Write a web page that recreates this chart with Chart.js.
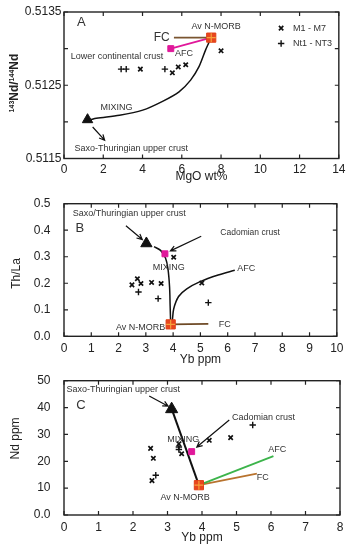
<!DOCTYPE html>
<html>
<head>
<meta charset="utf-8">
<script src="https://cdn.jsdelivr.net/npm/chart.js@4.4.1/dist/chart.umd.min.js"></script>
<style>
  html, body { margin: 0; padding: 0; background: #fff; }
  #wrap { position: relative; width: 349px; height: 550px; overflow: hidden; }
  canvas { position: absolute; left: 0; }
</style>
</head>
<body>
<div id="wrap">
  <canvas id="chartA" width="349" height="183" style="top:0;width:349px;height:183px"></canvas>
  <canvas id="chartB" width="349" height="183" style="top:183px;width:349px;height:183px"></canvas>
  <canvas id="chartC" width="349" height="190" style="top:360px;width:349px;height:190px"></canvas>
</div>
<script>
/* ── Panel A: 143Nd/144Nd vs MgO ─────────────────────────────────────── */
const aTicksX = [0, 2, 4, 6, 8, 10, 12, 14];
const aTickLabelsX = ["0", "2", "4", "6", "8", "10", "12", "14"];
const aTicksY = [0.5115, 0.512, 0.5125, 0.513, 0.5135];
const aTickLabelsY = ["0.5115", "", "0.5125", "", "0.5135"];
const aMgoM = [3.89, 5.52, 5.82, 6.20, 8.0];
const aNdM = [0.51272, 0.51267, 0.51275, 0.51278, 0.51297];
const aMgoNt = [2.91, 3.17, 5.14];
const aNdNt = [0.51272, 0.51272, 0.51272];
const aMixMgo = [7.5, 7.21, 6.87, 6.45, 5.86, 5.02, 4.01, 2.83, 1.65, 1.35];
const aMixNd = [0.51315, 0.51298, 0.51275, 0.51257, 0.51241, 0.51228, 0.51216, 0.51209, 0.51205, 0.51203];
const aFcMgo = [5.6, 7.5];
const aFcNd = [0.51315, 0.51315];
const aAfcMgo = [5.44, 7.5];
const aAfcNd = [0.51300, 0.51315];
const aCrustMgo = [1.2];
const aCrustNd = [0.51203];
const aMorbMgo = [7.5];
const aMorbNd = [0.51315];

/* ── Panel B: Th/La vs Yb ────────────────────────────────────────────── */
const bTicksX = [0, 1, 2, 3, 4, 5, 6, 7, 8, 9, 10];
const bTickLabelsX = ["0", "1", "2", "3", "4", "5", "6", "7", "8", "9", "10"];
const bTicksY = [0, 0.1, 0.2, 0.3, 0.4, 0.5];
const bTickLabelsY = ["0.0", "0.1", "0.2", "0.3", "0.4", "0.5"];
const bYbM = [2.69, 2.49, 2.82, 3.21, 3.56, 4.02, 5.05];
const bThM = [0.217, 0.194, 0.199, 0.203, 0.199, 0.298, 0.201];
const bYbNt = [2.73, 3.45, 5.29];
const bThNt = [0.167, 0.142, 0.127];
const bMixYb = [3.30, 3.54, 3.72, 3.81, 3.87, 3.89, 3.91];
const bMixTh = [0.338, 0.324, 0.295, 0.255, 0.185, 0.115, 0.045];
const bAfcYb = [3.91, 3.96, 4.02, 4.20, 4.50, 4.99, 5.65, 6.26];
const bAfcTh = [0.045, 0.051, 0.103, 0.150, 0.179, 0.206, 0.231, 0.249];
const bFcYb = [3.91, 5.29];
const bFcTh = [0.045, 0.047];
const bCrustYb = [3.02];
const bCrustTh = [0.350];
const bCadYb = [3.70];
const bCadTh = [0.311];
const bMorbYb = [3.91];
const bMorbTh = [0.045];

/* ── Panel C: Nd vs Yb ───────────────────────────────────────────────── */
const cTicksX = [0, 1, 2, 3, 4, 5, 6, 7, 8];
const cTickLabelsX = ["0", "1", "2", "3", "4", "5", "6", "7", "8"];
const cTicksY = [0, 10, 20, 30, 40, 50];
const cTickLabelsY = ["0.0", "10", "20", "30", "40", "50"];
const cYbM = [2.51, 2.59, 2.55, 3.41, 3.33, 4.21, 4.83];
const cNdM = [24.8, 21.1, 12.8, 22.8, 26.5, 27.8, 28.8];
const cYbNt = [2.66, 3.33, 3.33, 5.47];
const cNdNt = [14.8, 25.3, 24.4, 33.5];
const cMixYb = [3.91, 3.15];
const cMixNd = [11.1, 38.5];
const cAfcYb = [3.91, 6.07];
const cAfcNd = [11.1, 21.9];
const cFcYb = [3.91, 5.59];
const cFcNd = [11.1, 15.4];
const cCrustYb = [3.12];
const cCrustNd = [39.4];
const cCadYb = [3.70];
const cCadNd = [23.6];
const cMorbYb = [3.91];
const cMorbNd = [11.1];

const FONT = '"Liberation Sans", Arial, sans-serif';
Chart.defaults.font.family = FONT;
Chart.defaults.color = "#222";
Chart.defaults.animation = false;

function xy(xs, ys) {
  return xs.map((x, i) => ({ x, y: ys[i] }));
}

function lineSet(xs, ys, color, width, tension) {
  return {
    data: xy(xs, ys), showLine: true, borderColor: color, borderWidth: width,
    pointRadius: 0, tension: tension || 0, order: 5,
  };
}

function markSet(xs, ys, style, radius, fill, stroke, bw, order) {
  return {
    data: xy(xs, ys), showLine: false, pointStyle: style, pointRadius: radius,
    backgroundColor: fill, borderColor: stroke, borderWidth: bw, order: order == null ? 2 : order,
  };
}

// N-MORB: red square with a lighter cross through it
function morbSets(xs, ys) {
  return [
    markSet(xs, ys, "rect", 6.5, "#e8461e", "#e04018", 1, 1),
    markSet(xs, ys, "cross", 4.5, "#f5a23c", "#f5a23c", 1.2, 0),
  ];
}

function axis(min, max, ticks, labels, pad, extra) {
  return Object.assign({
    min, max,
    afterBuildTicks: (s) => { s.ticks = ticks.map((v) => ({ value: v })); },
    grid: { display: false, drawTicks: false },
    border: { display: false },
    ticks: {
      autoSkip: false, maxRotation: 0, padding: pad, color: "#222",
      font: { size: 12 }, callback: (v, i) => labels[i],
    },
  }, extra);
}

function axisTitle(text, pad) {
  return {
    display: true, text, color: "#222",
    font: { size: 12, lineHeight: 1 },
    padding: pad,
  };
}

/* frame, inward ticks, arrows, annotation text */
function overlay(notes, arrows, extra) {
  return {
    id: "overlay",
    afterDatasetsDraw(chart) {
      const { ctx, chartArea: a, scales: { x, y } } = chart;
      ctx.save();
      ctx.strokeStyle = "#222";
      ctx.lineWidth = 1.4;
      ctx.strokeRect(a.left, a.top, a.right - a.left, a.bottom - a.top);
      ctx.lineWidth = 1.2;
      ctx.beginPath();
      x.ticks.forEach((t) => {
        const px = x.getPixelForValue(t.value);
        ctx.moveTo(px, a.bottom); ctx.lineTo(px, a.bottom - 4);
        ctx.moveTo(px, a.top); ctx.lineTo(px, a.top + 4);
      });
      y.ticks.forEach((t) => {
        const py = y.getPixelForValue(t.value);
        ctx.moveTo(a.left, py); ctx.lineTo(a.left + 4, py);
        ctx.moveTo(a.right, py); ctx.lineTo(a.right - 4, py);
      });
      ctx.stroke();

      ctx.strokeStyle = "#111";
      ctx.lineWidth = 1.2;
      arrows.forEach(([x0, y0, x1, y1]) => {
        const p0x = x.getPixelForValue(x0), p0y = y.getPixelForValue(y0);
        const p1x = x.getPixelForValue(x1), p1y = y.getPixelForValue(y1);
        const ang = Math.atan2(p1y - p0y, p1x - p0x);
        ctx.beginPath();
        ctx.moveTo(p0x, p0y); ctx.lineTo(p1x, p1y);
        ctx.moveTo(p1x - 6 * Math.cos(ang - 0.45), p1y - 6 * Math.sin(ang - 0.45));
        ctx.lineTo(p1x, p1y);
        ctx.lineTo(p1x - 6 * Math.cos(ang + 0.45), p1y - 6 * Math.sin(ang + 0.45));
        ctx.stroke();
      });

      ctx.fillStyle = "#333";
      ctx.textBaseline = "middle";
      notes.forEach((n) => {
        ctx.font = (n.size || 9) + "px " + FONT;
        ctx.textAlign = n.align || "center";
        ctx.fillText(n.text, x.getPixelForValue(n.x), y.getPixelForValue(n.y));
      });
      if (extra) extra(chart);
      ctx.restore();
    },
  };
}

function panel(id, pad, xAxis, yAxis, datasets, plugin) {
  return new Chart(document.getElementById(id), {
    type: "scatter",
    data: { datasets },
    options: {
      responsive: false,
      devicePixelRatio: 1,
      layout: { padding: pad },
      plugins: { legend: { display: false }, tooltip: { enabled: false } },
      scales: { x: xAxis, y: yAxis },
    },
    plugins: [plugin],
  });
}

/* rotated y title drawn by hand, parts = [text, superscript?] */
function yTitle(parts, cx, cyValue, bold) {
  return (chart) => {
    const { ctx, scales: { y } } = chart;
    const w8 = bold ? "bold " : "";
    const fontOf = (sup) => w8 + (sup ? "7px " : "12px ") + FONT;
    let w = 0;
    parts.forEach(([t, sup]) => { ctx.font = fontOf(sup); w += ctx.measureText(t).width; });
    ctx.save();
    ctx.translate(cx, y.getPixelForValue(cyValue));
    ctx.rotate(-Math.PI / 2);
    ctx.fillStyle = "#222";
    ctx.textAlign = "left";
    ctx.textBaseline = "middle";
    let px = -w / 2;
    parts.forEach(([t, sup]) => {
      ctx.font = fontOf(sup);
      ctx.fillText(t, px, sup ? -3 : 0);
      px += ctx.measureText(t).width;
    });
    ctx.restore();
  };
}

/* ── A ── */
panel("chartA", { top: 12, right: 8, bottom: 0, left: 0 },
  axis(0, 14, aTicksX, aTickLabelsX, 3.5, {
    afterFit: (s) => { s.height = 24.5; },
    title: axisTitle("MgO wt%", { top: 0, bottom: 0 }),
  }),
  axis(0.5115, 0.5135, aTicksY, aTickLabelsY, 2.5, {
    afterFit: (s) => { s.width = 64; },
  }),
  [
    lineSet(aMixMgo, aMixNd, "#111", 1.5, 0.3),
    lineSet(aFcMgo, aFcNd, "#7a5530", 1.8),
    lineSet(aAfcMgo, aAfcNd, "#e0189a", 1.8),
    markSet(aMgoM, aNdM, "crossRot", 3.1, "#111", "#111", 1.7),
    markSet(aMgoNt, aNdNt, "cross", 3.2, "#111", "#111", 1.4),
    markSet(aCrustMgo, aCrustNd, "triangle", 6, "#111", "#111", 1),
    markSet(aAfcMgo.slice(0, 1), aAfcNd.slice(0, 1), "rect", 4.2, "#e0189a", "#e0189a", 1),
    ...morbSets(aMorbMgo, aMorbNd),
    markSet([11.06], [0.51328], "crossRot", 3.1, "#111", "#111", 1.7),
    markSet([11.06], [0.51307], "cross", 3.2, "#111", "#111", 1.4),
  ],
  overlay([
    { text: "A", x: 0.88, y: 0.513354, size: 13 },
    { text: "Av N-MORB", x: 7.75, y: 0.5133 },
    { text: "FC", x: 4.98, y: 0.51315, size: 12 },
    { text: "AFC", x: 6.11, y: 0.51294 },
    { text: "Lower continental crust", x: 2.7, y: 0.51289 },
    { text: "MIXING", x: 2.68, y: 0.5122 },
    { text: "Saxo-Thuringian upper crust", x: 3.43, y: 0.51164 },
    { text: "M1 - M7", x: 11.67, y: 0.51328, align: "left" },
    { text: "Nt1 - NT3", x: 11.67, y: 0.51307, align: "left" },
  ], [
    [1.46, 0.51193, 2.07, 0.51175],
  ], yTitle([["143", true], ["Nd/", false], ["144", true], ["Nd", false]], 15, 0.51253, true))
);

/* ── B ── */
panel("chartB", { top: 10, right: 9, bottom: 0, left: 0 },
  axis(0, 10, bTicksX, bTickLabelsX, 5.5, {
    afterFit: (s) => { s.height = 29.7; },
    title: axisTitle("Yb ppm", { top: 0, bottom: 0 }),
  }),
  axis(0, 0.5, bTicksY, bTickLabelsY, 13.5, {
    afterFit: (s) => { s.width = 64; },
  }),
  [
    lineSet(bMixYb, bMixTh, "#111", 1.5, 0.3),
    lineSet(bAfcYb, bAfcTh, "#111", 1.5, 0.3),
    lineSet(bFcYb, bFcTh, "#6e4a26", 1.8),
    markSet(bYbM, bThM, "crossRot", 3.1, "#111", "#111", 1.7),
    markSet(bYbNt, bThNt, "cross", 3.2, "#111", "#111", 1.4),
    markSet(bCrustYb, bCrustTh, "triangle", 6.5, "#111", "#111", 1),
    markSet(bCadYb, bCadTh, "rect", 4.2, "#e0189a", "#e0189a", 1),
    ...morbSets(bMorbYb, bMorbTh),
  ],
  overlay([
    { text: "B", x: 0.58, y: 0.408, size: 13 },
    { text: "Saxo/Thuringian upper crust", x: 2.39, y: 0.462 },
    { text: "Cadomian crust", x: 6.82, y: 0.392, size: 8.5 },
    { text: "MIXING", x: 3.84, y: 0.26 },
    { text: "AFC", x: 6.68, y: 0.255 },
    { text: "Av N-MORB", x: 2.81, y: 0.034 },
    { text: "FC", x: 5.89, y: 0.043 },
  ], [
    [2.27, 0.417, 2.87, 0.365],
    [5.03, 0.377, 3.9, 0.322],
  ], yTitle([["Th/La", false]], 17, 0.237, false))
);

/* ── C ── */
panel("chartC", { top: 9, right: 9, bottom: 6, left: 0 },
  axis(0, 8, cTicksX, cTickLabelsX, 5.5, {
    afterFit: (s) => { s.height = 29; },
    title: axisTitle("Yb ppm", { top: 0, bottom: 0 }),
  }),
  axis(0, 50, cTicksY, cTickLabelsY, 13.5, {
    afterFit: (s) => { s.width = 64; },
  }),
  [
    lineSet(cMixYb, cMixNd, "#111", 2),
    lineSet(cAfcYb, cAfcNd, "#3cb44b", 1.8),
    lineSet(cFcYb, cFcNd, "#b8732e", 1.8),
    markSet(cYbM, cNdM, "crossRot", 3.1, "#111", "#111", 1.7),
    markSet(cYbNt, cNdNt, "cross", 3.2, "#111", "#111", 1.4),
    markSet(cCrustYb, cCrustNd, "triangle", 7, "#111", "#111", 1),
    markSet(cCadYb, cCadNd, "rect", 4.2, "#e0189a", "#e0189a", 1),
    ...morbSets(cMorbYb, cMorbNd),
  ],
  overlay([
    { text: "C", x: 0.49, y: 40.9, size: 13 },
    { text: "Saxo-Thuringian upper crust", x: 1.72, y: 46.8 },
    { text: "Cadomian crust", x: 5.78, y: 36.2 },
    { text: "MIXING", x: 3.46, y: 28.2 },
    { text: "AFC", x: 6.18, y: 24.2 },
    { text: "FC", x: 5.76, y: 14.0 },
    { text: "Av N-MORB", x: 3.51, y: 6.6 },
  ], [
    [2.47, 44.3, 3.02, 40.5],
    [4.79, 35.4, 3.85, 25.3],
  ], yTitle([["Nd ppm", false]], 16, 28.5, false))
);
</script>
</body>
</html>
